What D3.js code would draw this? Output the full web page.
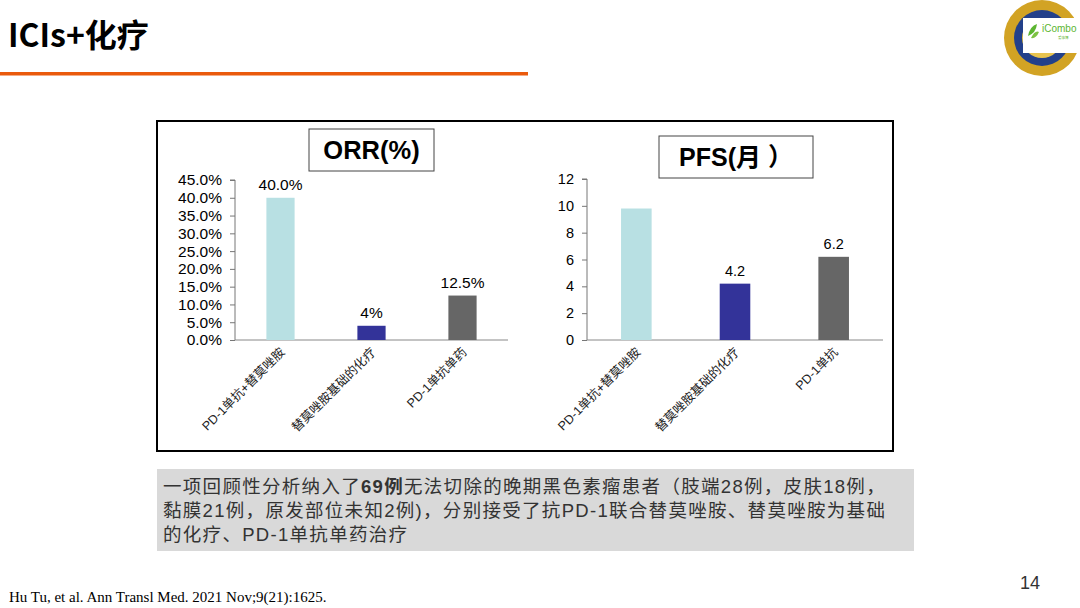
<!DOCTYPE html>
<html><head><meta charset="utf-8">
<script src="https://cdn.jsdelivr.net/npm/d3@7"></script>
<style>
html,body{margin:0;padding:0;background:#fff;}
svg{display:block;}
</style></head>
<body>
<script>
// ---- data ----
const orrCategories = ["PD-1单抗+替莫唑胺", "替莫唑胺基础的化疗", "PD-1单抗单药"];
const orrValues = [40.0, 4, 12.5];
const orrLabels = ["40.0%", "4%", "12.5%"];
const orrTicks = [0, 5, 10, 15, 20, 25, 30, 35, 40, 45];

const pfsCategories = ["PD-1单抗+替莫唑胺", "替莫唑胺基础的化疗", "PD-1单抗"];
const pfsValues = [9.8, 4.2, 6.2];
const pfsLabels = ["", "4.2", "6.2"];
const pfsTicks = [0, 2, 4, 6, 8, 10, 12];

const barColors = ["#b8e0e3", "#333399", "#666666"];

const SANS = "'Liberation Sans','Noto Sans CJK SC',Arial,sans-serif";
const W = 1080, H = 608;
const svg = d3.select("body").append("svg").attr("width", W).attr("height", H)
  .style("font-family", SANS);

// title
svg.append("text").attr("x", 8).attr("y", 47).attr("font-size", 32).attr("font-weight", "bold")
  .attr("fill", "#000").style("font-family", "'Noto Sans CJK SC','Liberation Sans',sans-serif").text("ICIs+化疗");
svg.append("rect").attr("x", 0).attr("y", 72).attr("width", 528).attr("height", 3.5).attr("fill", "#ea5a0c");

// logo approximation
const logo = svg.append("g");
logo.append("circle").attr("cx", 1042).attr("cy", 38).attr("r", 38).attr("fill", "#d2a324");
logo.append("circle").attr("cx", 1042).attr("cy", 38).attr("r", 28).attr("fill", "#23408a");
logo.append("circle").attr("cx", 1042).attr("cy", 38).attr("r", 20).attr("fill", "#e7c34f");
logo.append("rect").attr("x", 1023).attr("y", 18).attr("width", 57).attr("height", 35).attr("fill", "#fff");
logo.append("path").attr("d", "M1028,36 q2,-10 9,-12 q-1,9 -9,12z").attr("fill", "#5cb531");
logo.append("path").attr("d", "M1031,38 q4,-8 8,-6 q-3,7 -8,6z").attr("fill", "#7cc242");
logo.append("text").attr("x", 1042).attr("y", 32).attr("font-size", 10).attr("fill", "#5cb531").text("iCombo");
logo.append("text").attr("x", 1058).attr("y", 39).attr("font-size", 3.5).attr("fill", "#5cb531").text("爱康博");

// outer frame
svg.append("rect").attr("x", 157).attr("y", 121).attr("width", 736).attr("height", 330)
  .attr("fill", "#fff").attr("stroke", "#000").attr("stroke-width", 2);

function drawChart(cfg) {
  const g = svg.append("g");
  const x = d3.scaleBand().domain(cfg.cats).range([cfg.x0, cfg.x1]).paddingInner(0.69).paddingOuter(0.345);
  const y = d3.scaleLinear().domain([0, cfg.max]).range([cfg.y0, cfg.y1]);
  // y axis
  const ya = d3.axisLeft(y).tickValues(cfg.ticks).tickSize(5).tickPadding(8).tickFormat(cfg.fmt);
  const yg = g.append("g").attr("transform", `translate(${cfg.x0},0)`).call(ya);
  yg.attr("font-family", null).attr("font-size", null);
  yg.select(".domain").attr("stroke", "#777").attr("d", `M-5,${cfg.y1}H0V${cfg.y0}`);
  yg.selectAll(".tick line").attr("stroke", "#777");
  yg.selectAll(".tick text").attr("font-size", cfg.fs).attr("fill", "#000").style("font-family", SANS);
  // x axis line
  g.append("line").attr("x1", cfg.x0).attr("x2", cfg.x1).attr("y1", cfg.y0).attr("y2", cfg.y0).attr("stroke", "#888").attr("stroke-width", 1);
  // bars
  g.selectAll("rect.bar").data(cfg.vals).join("rect").attr("class", "bar")
    .attr("x", (d, i) => x(cfg.cats[i])).attr("width", x.bandwidth())
    .attr("y", d => y(d)).attr("height", d => cfg.y0 - y(d))
    .attr("fill", (d, i) => barColors[i]);
  // value labels
  g.selectAll("text.val").data(cfg.vals).join("text").attr("class", "val")
    .attr("x", (d, i) => x(cfg.cats[i]) + x.bandwidth() / 2).attr("y", d => y(d) - 8)
    .attr("text-anchor", "middle").attr("font-size", cfg.fs).attr("fill", "#000")
    .text((d, i) => cfg.labels[i]);
  // category labels
  g.selectAll("text.cat").data(cfg.cats).join("text").attr("class", "cat")
    .attr("transform", d => `translate(${x(d) + x.bandwidth() / 2 + 5},${cfg.y0 + 13}) rotate(-45)`)
    .attr("text-anchor", "end").attr("font-size", 12.5).attr("fill", "#222")
    .text(d => d);
  // title box
  g.append("rect").attr("x", cfg.tb[0]).attr("y", cfg.tb[1]).attr("width", cfg.tb[2]).attr("height", cfg.tb[3])
    .attr("fill", "#fff").attr("stroke", "#444").attr("stroke-width", 1);
  g.append("text").attr("x", cfg.tb[0] + cfg.tb[2] / 2).attr("y", cfg.tb[1] + cfg.tb[3] / 2 + 9)
    .attr("text-anchor", "middle").attr("font-size", cfg.tfs).attr("font-weight", "bold").attr("fill", "#000")
    .text(cfg.title);
}

drawChart({cats: orrCategories, vals: orrValues, labels: orrLabels, ticks: orrTicks, max: 45,
  fmt: d => d.toFixed(1) + "%", x0: 235, x1: 508, y0: 340, y1: 180, fs: 15.5, tfs: 25.5,
  tb: [309, 129, 125, 42], title: "ORR(%)"});
drawChart({cats: pfsCategories, vals: pfsValues, labels: pfsLabels, ticks: pfsTicks, max: 12,
  fmt: d => d, x0: 587, x1: 883, y0: 340, y1: 179, fs: 14.5, tfs: 25,
  tb: [659, 136, 154, 42], title: "PFS(月 ）"});

// summary box
svg.append("rect").attr("x", 157).attr("y", 469).attr("width", 757).attr("height", 82).attr("fill", "#d9d9d9");
const lines = [
  [["一项回顾性分析纳入了", false], ["69例", true], ["无法切除的晚期黑色素瘤患者（肢端28例，皮肤18例，", false]],
  [["黏膜21例，原发部位未知2例)，分别接受了抗PD-1联合替莫唑胺、替莫唑胺为基础", false]],
  [["的化疗、PD-1单抗单药治疗", false]]
];
lines.forEach((ln, i) => {
  const t = svg.append("text").attr("x", 163).attr("y", 493 + i * 24).attr("font-size", 18.5)
    .attr("letter-spacing", 1.3).attr("fill", "#333");
  ln.forEach(s => t.append("tspan").attr("font-weight", s[1] ? "bold" : "normal").text(s[0]));
});

// footer
svg.append("text").attr("x", 9).attr("y", 602).attr("font-size", 15).attr("fill", "#000")
  .style("font-family", "'Liberation Serif','Times New Roman',serif").text("Hu Tu, et al. Ann Transl Med. 2021 Nov;9(21):1625.");
svg.append("text").attr("x", 1030).attr("y", 589).attr("font-size", 18).attr("text-anchor", "middle").attr("fill", "#333").text("14");
</script>
</body></html>
